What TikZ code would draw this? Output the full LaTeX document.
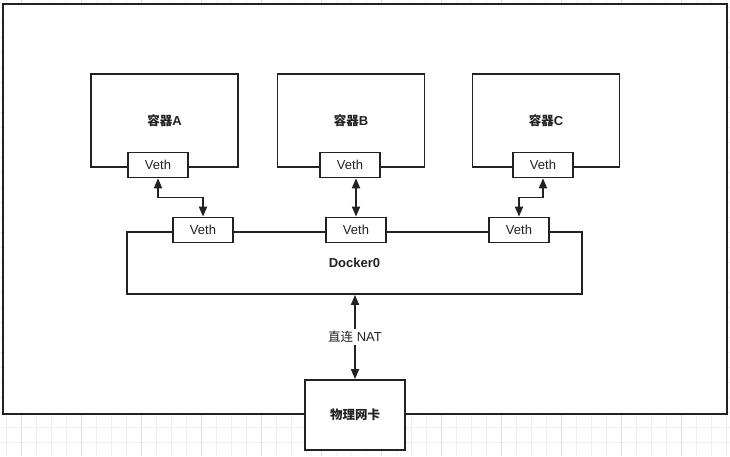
\documentclass[tikz,border=0pt]{standalone}
\usepackage{fontspec}
\setmainfont{Liberation Sans}
\newfontfamily\cjk{Noto Sans CJK SC}
\usetikzlibrary{arrows.meta,positioning,calc}
\definecolor{Ink}{HTML}{222222}
\definecolor{GridMinor}{HTML}{F0F0F0}
\definecolor{GridMajor}{HTML}{E0E0E0}

\begin{document}
\begin{tikzpicture}[x=1pt,y=-1pt,
    n/.style={draw=Ink,line width=1.8pt,fill=white,inner sep=0pt,text=Ink},
    ct/.style={n,minimum width=147pt,minimum height=93pt,font=\bfseries\fontsize{13}{15}\selectfont},
    ve/.style={n,minimum width=60pt,minimum height=25pt,font=\fontsize{13}{15}\selectfont},
    a/.style={{Triangle[length=10pt,width=8pt]}-{Triangle[length=10pt,width=8pt]},line width=1.8pt,draw=Ink},
    lab/.style={fill=white,text=Ink,font=\fontsize{13}{15}\selectfont,inner sep=2pt}]
    \useasboundingbox (0,0) rectangle (730,456);
    % background grid
    \foreach \gx in {6.7,21.7,...,730} \draw[GridMinor,line width=0.7pt] (\gx,0) -- (\gx,456);
    \foreach \gy in {7.3,22.3,...,456} \draw[GridMinor,line width=0.7pt] (0,\gy) -- (730,\gy);
    \foreach \gx in {21.7,81.7,...,730} \draw[GridMajor,line width=0.7pt] (\gx,0) -- (\gx,456);
    % host
    \node[n,minimum width=724pt,minimum height=410pt] (host) at (365,209) {};
    % containers
    \node[ct] (ca) at (164.5,120.5) {{\cjk\bfseries\fontsize{12.5}{15}\selectfont 容器}A};
    \node[ct] (cb) at (351,120.5) {{\cjk\bfseries\fontsize{12.5}{15}\selectfont 容器}B};
    \node[ct] (cc) at (546,120.5) {{\cjk\bfseries\fontsize{12.5}{15}\selectfont 容器}C};
    \node[ve] (va) at ([xshift=-6.5pt,yshift=3pt]ca.south) {Veth};
    \node[ve] (vb) at ([xshift=-1pt,yshift=3pt]cb.south) {Veth};
    \node[ve] (vc) at ([xshift=-3pt,yshift=3pt]cc.south) {Veth};
    % bridge
    \node[n,minimum width=455pt,minimum height=62pt,font=\bfseries\fontsize{13}{15}\selectfont] (dk) at (354.5,263) {Docker0};
    \node[ve] (da) at (203,230) {Veth};
    \node[ve] (db) at (356,230) {Veth};
    \node[ve] (dc) at (519,230) {Veth};
    % nic
    \node[n,minimum width=100pt,minimum height=70pt,font=\cjk\bfseries\fontsize{12.5}{15}\selectfont] (nic) at (355,415) {物理网卡};
    % links
    \coordinate (ka) at ($(va.south)!.5!(da.north)$);
    \coordinate (kc) at ($(vc.south)!.5!(dc.north)$);
    \draw[a] (va.south) |- (ka) -| (da.north);
    \draw[a] (db.north |- vb.south) -- (db.north);
    \draw[a] (vc.south) |- (kc) -| (dc.north);
    \draw[a] (nic.north |- dk.south) -- node[lab]{{\cjk\fontsize{12.5}{15}\selectfont 直连} NAT} (nic.north);
  \end{tikzpicture}
\end{document}
